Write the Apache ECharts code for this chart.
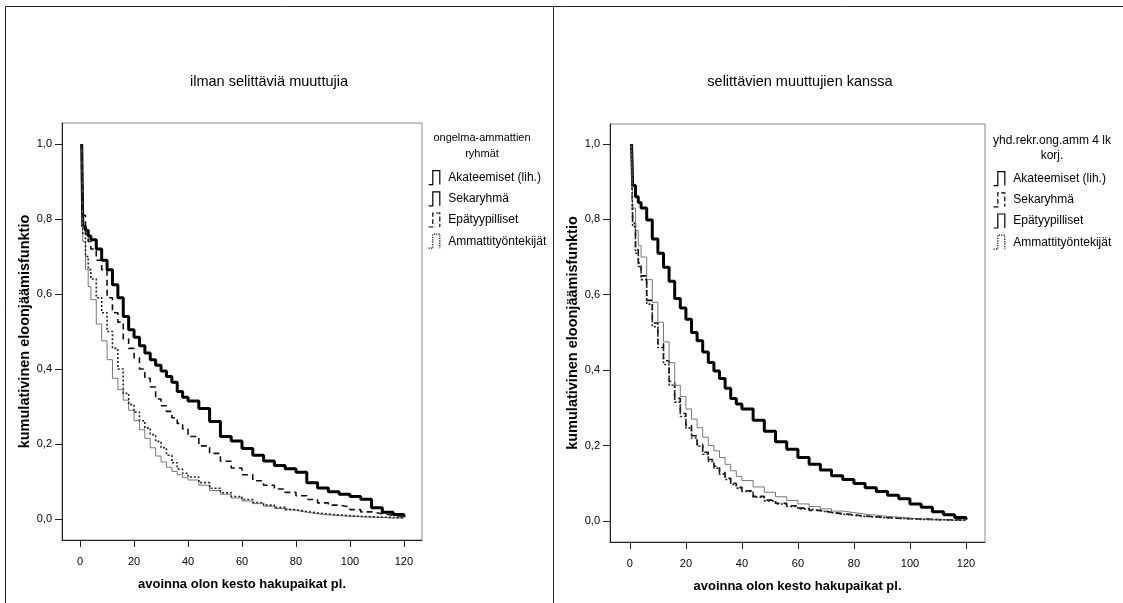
<!DOCTYPE html>
<html>
<head>
<meta charset="utf-8">
<script src="https://cdn.jsdelivr.net/npm/echarts@6.0.0/dist/echarts.min.js"></script>
<style>
  html, body { margin: 0; padding: 0; background: #fff; }
  #main { width: 1123px; height: 603px; }
</style>
</head>
<body>
<div id="main"></div>
<script>
// kuukaudet (x-akseli), yhteiset molemmille kuvioille
var months = [0.6, 1, 2, 3, 4, 6, 8, 10, 12, 14, 16, 18, 20, 22, 24, 26, 28, 30, 32, 34, 36, 38, 40,
    44, 48, 52, 56, 60, 64, 68, 72, 76, 80, 84, 88, 92, 96, 100, 104, 108, 112, 116, 120];

var groupNames = ['Akateemiset (lih.)', 'Sekaryhmä', 'Epätyypilliset', 'Ammattityöntekijät'];
var xTicks = [0, 20, 40, 60, 80, 100, 120];
var yTicks = [0, 0.2, 0.4, 0.6, 0.8, 1.0];

// vasen: ilman selittäviä muuttujia
var leftAkat = [1.0, 0.78, 0.77, 0.755, 0.745, 0.72, 0.69, 0.665, 0.625, 0.59, 0.54, 0.505, 0.485, 0.462, 0.443, 0.425, 0.41, 0.395, 0.38, 0.365, 0.34, 0.325, 0.315,
    0.295, 0.26, 0.22, 0.208, 0.188, 0.17, 0.155, 0.143, 0.134, 0.125, 0.097, 0.083, 0.073, 0.066, 0.06, 0.053, 0.03, 0.018, 0.012, 0.005];
var leftSeka = [1.0, 0.74, 0.665, 0.62, 0.585, 0.52, 0.475, 0.425, 0.375, 0.345, 0.317, 0.29, 0.262, 0.238, 0.215, 0.19, 0.168, 0.152, 0.138, 0.127, 0.118, 0.11, 0.104,
    0.09, 0.076, 0.066, 0.056, 0.048, 0.041, 0.034, 0.028, 0.023, 0.018, 0.014, 0.011, 0.009, 0.007, 0.006, 0.005, 0.004, 0.003, 0.003, 0.002];
var leftEpat = [1.0, 0.81, 0.76, 0.74, 0.72, 0.69, 0.665, 0.59, 0.55, 0.525, 0.48, 0.455, 0.43, 0.40, 0.375, 0.352, 0.32, 0.302, 0.287, 0.27, 0.255, 0.24, 0.22,
    0.195, 0.175, 0.154, 0.136, 0.118, 0.102, 0.09, 0.08, 0.071, 0.062, 0.052, 0.043, 0.037, 0.032, 0.025, 0.019, 0.014, 0.01, 0.007, 0.005];
var leftAmm = [1.0, 0.76, 0.70, 0.665, 0.64, 0.59, 0.55, 0.50, 0.455, 0.40, 0.335, 0.305, 0.285, 0.262, 0.243, 0.225, 0.207, 0.19, 0.17, 0.15, 0.133, 0.122, 0.112,
    0.097, 0.082, 0.07, 0.06, 0.052, 0.044, 0.037, 0.031, 0.025, 0.02, 0.016, 0.013, 0.011, 0.009, 0.007, 0.006, 0.005, 0.004, 0.003, 0.003];

// oikea: selittävien muuttujien kanssa
var rightAkat = [1.0, 0.89, 0.86, 0.845, 0.83, 0.798, 0.748, 0.71, 0.673, 0.636, 0.59, 0.565, 0.535, 0.5, 0.478, 0.448, 0.42, 0.398, 0.378, 0.352, 0.325, 0.31, 0.297,
    0.267, 0.238, 0.21, 0.19, 0.168, 0.15, 0.135, 0.12, 0.11, 0.099, 0.088, 0.078, 0.068, 0.059, 0.045, 0.036, 0.024, 0.016, 0.009, 0.003];
var rightSeka = [1.0, 0.79, 0.72, 0.685, 0.65, 0.585, 0.525, 0.47, 0.425, 0.37, 0.325, 0.285, 0.253, 0.226, 0.203, 0.182, 0.163, 0.145, 0.128, 0.113, 0.1, 0.089, 0.08,
    0.065, 0.055, 0.047, 0.04, 0.034, 0.028, 0.023, 0.019, 0.016, 0.013, 0.011, 0.009, 0.007, 0.006, 0.005, 0.004, 0.003, 0.003, 0.002, 0.002];
var rightEpat = [1.0, 0.83, 0.77, 0.73, 0.70, 0.64, 0.58, 0.527, 0.475, 0.42, 0.36, 0.33, 0.297, 0.27, 0.247, 0.222, 0.2, 0.186, 0.168, 0.15, 0.133, 0.118, 0.107,
    0.09, 0.076, 0.064, 0.054, 0.045, 0.038, 0.032, 0.026, 0.022, 0.018, 0.015, 0.012, 0.01, 0.007, 0.005, 0.003, 0.003, 0.002, 0.002, 0.001];
var rightAmm = [1.0, 0.78, 0.71, 0.675, 0.64, 0.575, 0.515, 0.46, 0.415, 0.36, 0.315, 0.277, 0.246, 0.22, 0.198, 0.177, 0.158, 0.14, 0.124, 0.11, 0.097, 0.087, 0.078,
    0.063, 0.053, 0.045, 0.038, 0.032, 0.027, 0.022, 0.018, 0.015, 0.012, 0.01, 0.008, 0.007, 0.006, 0.004, 0.004, 0.003, 0.002, 0.002, 0.001];

var font = '"Liberation Sans", Arial, sans-serif';
var stepIcon = 'path://M0,20L6,20L6,0L16,0L16,20';

initChart();

function pairs(vals) {
    return months.map(function (m, i) { return [m, vals[i]]; });
}

function line(name, vals, idx, style) {
    return {
        name: name,
        type: 'line',
        step: 'end',
        xAxisIndex: idx,
        yAxisIndex: idx,
        showSymbol: false,
        symbol: 'none',
        silent: true,
        lineStyle: style,
        data: pairs(vals)
    };
}

function xAxisOf(idx, min, max) {
    return {
        type: 'value', gridIndex: idx, min: min, max: max,
        name: 'avoinna olon kesto hakupaikat pl.',
        nameLocation: 'middle', nameGap: 38,
        nameTextStyle: { fontFamily: font, fontWeight: 'bold', fontSize: 13, color: '#000' },
        axisLine: { onZero: false, lineStyle: { color: '#222', width: 1 } },
        axisTick: { length: 7, lineStyle: { color: '#222' }, customValues: xTicks },
        axisLabel: { customValues: xTicks, margin: 16, fontFamily: font, fontSize: 11, color: '#000' },
        splitLine: { show: false }
    };
}

function yAxisOf(idx, min, max) {
    return {
        type: 'value', gridIndex: idx, min: min, max: max,
        name: 'kumulativinen eloonjäämisfunktio',
        nameLocation: 'middle', nameGap: 25,
        nameTextStyle: { fontFamily: font, fontWeight: 'bold', fontSize: 14.5, color: '#000' },
        axisLine: { onZero: false, lineStyle: { color: '#222', width: 1 } },
        axisTick: { length: 7, lineStyle: { color: '#222' }, customValues: yTicks },
        axisLabel: {
            customValues: yTicks, margin: 10, fontFamily: font, fontSize: 11, color: '#000',
            formatter: function (v) { return v.toFixed(1).replace('.', ','); }
        },
        splitLine: { show: false }
    };
}

function legendOf(left, top, styles) {
    return {
        orient: 'vertical', left: left, top: top,
        itemWidth: 18, itemHeight: 14, itemGap: 6,
        selectedMode: false,
        textStyle: { fontFamily: font, fontSize: 12, color: '#000' },
        data: groupNames.map(function (n, i) {
            return {
                name: n, icon: stepIcon,
                itemStyle: { color: 'transparent', borderColor: '#000', borderWidth: 1.2, borderType: styles[i] }
            };
        })
    };
}

function initChart() {
    var myChart = echarts.init(document.getElementById('main'), null, { renderer: 'canvas' });

    var thick = { color: '#000', width: 3 };
    var thin = { color: '#777', width: 1 };
    var dashed = { color: '#111', width: 1.6, type: [6, 4] };
    var dotted = { color: '#222', width: 1.6, type: [2, 2] };

    myChart.setOption({
        animation: false,
        backgroundColor: '#fff',
        title: [
            { text: 'ilman selittäviä muuttujia', left: 264, top: 69, textAlign: 'center',
              textStyle: { fontFamily: font, fontSize: 14.5, fontWeight: 'normal', color: '#000' } },
            { text: 'selittävien muuttujien kanssa', left: 795, top: 69, textAlign: 'center',
              textStyle: { fontFamily: font, fontSize: 14.5, fontWeight: 'normal', color: '#000' } }
        ],
        grid: [
            { left: 62, top: 123, width: 360, height: 417, show: true, borderColor: '#888', borderWidth: 1 },
            { left: 610, top: 124, width: 375, height: 418, show: true, borderColor: '#888', borderWidth: 1 }
        ],
        xAxis: [xAxisOf(0, -6.7, 126.7), xAxisOf(1, -7.1, 126.8)],
        yAxis: [yAxisOf(0, -0.056, 1.056), yAxisOf(1, -0.056, 1.053)],
        legend: [
            legendOf(423, 165, ['solid', 'solid', 'dashed', 'dotted']),
            legendOf(988, 166, ['solid', 'dashed', 'solid', 'dotted'])
        ],
        graphic: [
            // kehykset
            { type: 'line', shape: { x1: 5.5, y1: 6.5, x2: 1123, y2: 6.5 }, style: { stroke: '#222', lineWidth: 1 } },
            { type: 'line', shape: { x1: 5.5, y1: 6.5, x2: 5.5, y2: 603 }, style: { stroke: '#222', lineWidth: 1 } },
            { type: 'line', shape: { x1: 553.5, y1: 6.5, x2: 553.5, y2: 603 }, style: { stroke: '#222', lineWidth: 1 } },
            // legendojen otsikot
            { type: 'text', x: 482, y: 130,
              style: { text: 'ongelma-ammattien\nryhmät', align: 'center', font: '11px ' + font, fill: '#000', lineHeight: 16 } },
            { type: 'text', x: 1052, y: 133,
              style: { text: 'yhd.rekr.ong.amm 4 lk\nkorj.', align: 'center', font: '12px ' + font, fill: '#000', lineHeight: 15 } }
        ],
        series: [
            line(groupNames[0], leftAkat, 0, thick),
            line(groupNames[1], leftSeka, 0, thin),
            line(groupNames[2], leftEpat, 0, dashed),
            line(groupNames[3], leftAmm, 0, dotted),
            line(groupNames[0], rightAkat, 1, thick),
            line(groupNames[1], rightSeka, 1, dashed),
            line(groupNames[2], rightEpat, 1, thin),
            line(groupNames[3], rightAmm, 1, dotted)
        ]
    });
}
</script>
</body>
</html>
